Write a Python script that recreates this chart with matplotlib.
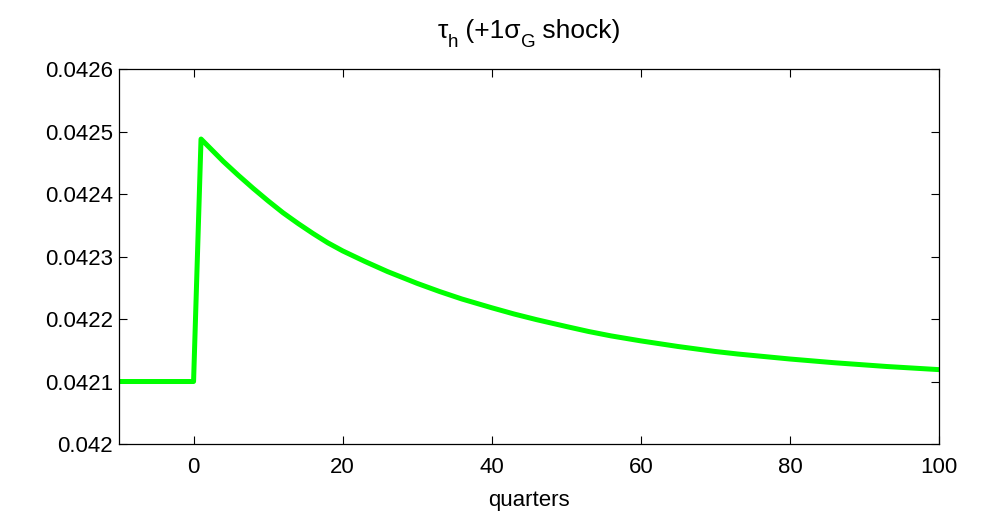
import matplotlib
matplotlib.use("Agg")
import matplotlib.pyplot as plt

# values (quarters vs tau_h)
quarters = [-10, 0, 1, 2, 3, 4, 6, 8, 10, 12, 14, 16, 18, 20, 23, 26, 30, 33,
            36, 40, 43, 46, 50, 53, 56, 60, 65, 70, 73, 80, 86, 93, 100]
tau_h = [0.042100, 0.042100, 0.042488, 0.042476, 0.042464, 0.042452, 0.042430,
         0.042409, 0.042389, 0.042370, 0.042353, 0.042337, 0.042322, 0.042309,
         0.042292, 0.042276, 0.042257, 0.042244, 0.042232, 0.042218, 0.042208,
         0.042199, 0.042188, 0.042180, 0.042173, 0.042165, 0.042156, 0.042148,
         0.042144, 0.042136, 0.042130, 0.042124, 0.042119]

xticks = [0, 20, 40, 60, 80, 100]
yticks = [0.042, 0.0421, 0.0422, 0.0423, 0.0424, 0.0425, 0.0426]
ytick_labels = ["0.042", "0.0421", "0.0422", "0.0423", "0.0424", "0.0425", "0.0426"]

# title pieces: (text, fontsize, baseline drop in px)
title_parts = [("\u03c4", 19, 0), ("h", 13.5, 9), (" (+1\u03c3", 19, 0),
               ("G", 13.5, 9), (" shock)", 19, 0)]

plt.rcParams["font.family"] = ["Liberation Sans", "DejaVu Sans"]

W, H = 996, 519
fig = plt.figure(figsize=(W / 100, H / 100), dpi=100)
ax = fig.add_axes([0.1195, 0.1445, 0.8233, 0.7225])

ax.plot(quarters, tau_h, color="#00ff00", linewidth=3.6)

ax.set_xlim(-10, 100)
ax.set_ylim(0.042, 0.0426)
ax.set_xticks(xticks)
ax.set_yticks(yticks)
ax.set_yticklabels(ytick_labels)
ax.tick_params(direction="in", top=True, right=True, length=6, width=0.8,
               labelsize=16)
ax.tick_params(axis="x", pad=9)
ax.tick_params(axis="y", pad=4.5)
for s in ax.spines.values():
    s.set_linewidth(0.9)

ax.set_xlabel("quarters", fontsize=16, labelpad=9)

# title built piece by piece so the subscripts look like the original
renderer = fig.canvas.get_renderer()
texts = []
for txt, size, drop in title_parts:
    t = fig.text(0, 0, txt, fontsize=size, ha="left", va="baseline")
    texts.append((t, drop))
widths = [t.get_window_extent(renderer).width for t, _ in texts]
x = 529 - sum(widths) / 2
base = H - 38
for (t, drop), w in zip(texts, widths):
    t.set_position((x / W, (base - drop) / H))
    x += w

fig.savefig("out.png", dpi=100)
